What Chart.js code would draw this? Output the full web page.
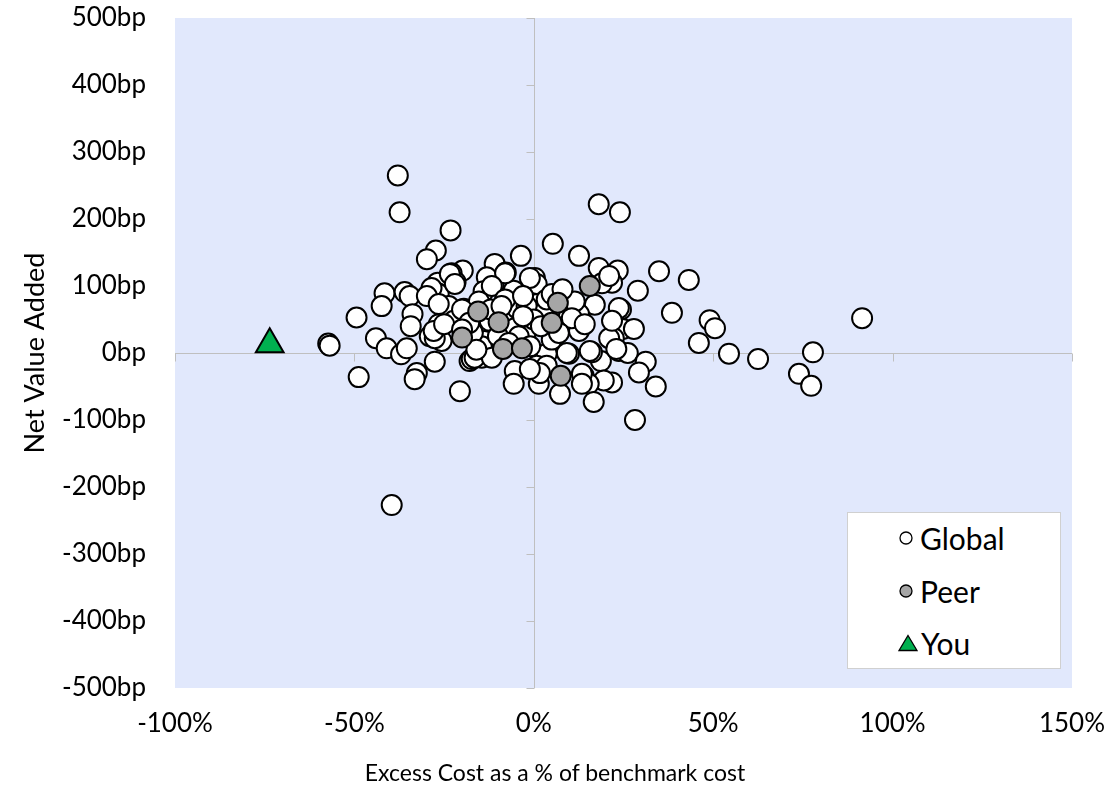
<!DOCTYPE html>
<html>
<head>
<meta charset="utf-8">
<script src="https://cdn.jsdelivr.net/npm/chart.js@4.4.1/dist/chart.umd.min.js"></script>
<style>
  html, body { margin: 0; padding: 0; background: #ffffff; }
  #wrap { position: relative; width: 1110px; height: 795px; }
  #legend {
    position: absolute; left: 847px; top: 512px; width: 214px; height: 157px;
    background: #ffffff; border: 1px solid #D0D0D0; box-sizing: border-box;
    font-family: Lato, "Open Sans", sans-serif; font-size: 30px; color: #000;
  }
  .item { position: absolute; left: 50px; height: 36px; display: flex; align-items: center; }
  .item span { margin-left: 6px; }
  #xtitle {
    position: absolute; left: 0; width: 1110px; top: 757px; height: 30px; line-height: 30px;
    text-align: center; font-family: Lato, "Open Sans", sans-serif; font-size: 23px; color: #000;
  }
</style>
</head>
<body>
<div id="wrap">
  <canvas id="c" width="1110" height="795"></canvas>
  <div id="xtitle">Excess Cost as a % of benchmark cost</div>
  <div id="legend">
    <div class="item" style="top:7px"><svg width="16" height="16"><circle cx="8" cy="8" r="6" fill="#ffffff" stroke="#000" stroke-width="1.3"/></svg><span>Global</span></div>
    <div class="item" style="top:60px"><svg width="16" height="16"><circle cx="8" cy="8" r="6" fill="#A6A6A6" stroke="#000" stroke-width="1.3"/></svg><span>Peer</span></div>
    <div class="item" style="top:112px"><svg width="20" height="18"><polygon points="10,1.5 19,16.5 1,16.5" fill="#00B050" stroke="#000" stroke-width="1.3"/></svg><span style="margin-left:3px">You</span></div>
  </div>
</div>
<script>
// ---- Data (x: excess cost %, y: net value added bp) ----
const globalX = [
  -37.9, -37.4, -23.2, -27.3, -29.8, -3.6, 5.3, -10.9, -7.8, -19.8,
  -22.9, -21.8, -11.2, 0.3, 0.8, -13.1, -5.6, -26.8, -26.8, -41.6,
  -36.0, -34.6, -14.0, 18.1, 24.0, 12.6, 18.1, 23.4, 34.9, 43.2,
  21.8, 29.0, 38.5, 49.0, 50.5, 46.0, 54.4, 24.3, 17.0, 10.6,
  12.6, 12.8, 24.8, 27.9, 22.3, 23.7, 26.2, 18.7, 16.2, 9.8,
  3.0, 31.2, 29.3, 34.0, 21.8, 19.5, 13.9, 15.3, 7.3, 16.7,
  28.2, 91.5, 62.5, 77.8, 73.9, 77.3, -57.3, -56.9, -49.4, -48.8,
  -44.0, -41.0, -37.0, -35.4, -42.4, -33.8, -34.3, -32.6, -33.2, -27.6,
  -27.6, -29.0, -26.5, -28.5, -29.8, -23.4, -20.6, -17.9, -19.5, -23.7,
  -22.3, -26.5, -25.7, -27.6, -8.0, -11.7, -1.1, -15.3, -13.7, -14.5,
  -17.3, -12.3, -5.3, -5.3, -2.0, 0.8, 2.8, 3.6, 9.8, 11.4,
  12.6, 19.0, 21.0, 23.7, 21.0, 23.0, 15.6, 9.2, 3.6, 0.8,
  -5.3, 1.4, -5.6, 13.4, 13.4, -16.5, -7.5, -4.7, -2.0, 10.6,
  14.2, 21.8, -27.9, -25.0, -26.5, -22.0, -20.0, -5.3, -4.2, -14.5,
  -11.7, 3.6, 1.7, -1.1, -39.6, -8.0, -3.0, 5.0, 8.0, -17.0,
  -10.0, -7.0, -1.0, 5.0, 7.0, -18.0, -12.0, -9.0, 0.0, 2.0,
  -3.0, -20.0, -16.0
];
const globalY = [
  265, 210, 183, 153, 140, 145, 163, 133, 120, 123,
  119, 106, 101, 112, 103, 113, 93, 105, 89, 89,
  91, 85, 92, 222, 210, 145, 127, 123, 122, 109,
  105, 93, 60, 49, 37, 15, -1, 65, 72, 73,
  58, 40, 36, 36, 22, 3, 0, -12, 1, -1,
  -4, -13, -29, -50, -44, -41, -34, -46, -61, -73,
  -100, 52, -9, 1, -31, -49, 14, 11, 53, -36,
  22, 7, -2, 7, 70, 58, 40, -30, -39, -13,
  31, 25, 88, 97, 85, 118, -57, -12, 66, 70,
  48, 43, 18, 22, 119, 100, 112, 77, 18, -7,
  -9, 48, 30, 48, 33, 73, 60, 80, 55, 77,
  33, 104, 115, 67, 22, 6, 3, 0, -1, -19,
  -27, -46, -46, -31, -46, -7, 52, 67, 70, 52,
  43, 48, 33, 43, 73, 103, 65, 37, 25, 10,
  -7, -19, -30, -24, -227, 80, 85, 88, 95, 30,
  25, 15, 10, 20, 30, 45, 65, 70, 50, 40,
  55, 35, 5
];
const peerX = [-15.5, -20.0, -9.8, -8.6, -3.3, 6.7, 5.0, 15.6, 7.5];
const peerY = [62, 23, 46, 6, 7, 75, 45, 100, -34];
const youX = [-73.6];
const youY = [13];

const xTicks = [-100, -50, 0, 50, 100, 150];
const yTicks = [-500, -400, -300, -200, -100, 0, 100, 200, 300, 400, 500];

const zip = (xs, ys) => xs.map((x, i) => ({ x: x, y: ys[i] }));

const FONT = 'Lato, "Open Sans", sans-serif';
const BG = '#E1E8FC';
const AXIS = '#BFBFBF';

const bgAxes = {
  id: 'bgAxes',
  beforeDatasetsDraw(chart) {
    const { ctx, chartArea: a, scales: { x, y } } = chart;
    ctx.save();
    ctx.fillStyle = BG;
    ctx.fillRect(a.left, a.top, a.right - a.left, a.bottom - a.top);
    const x0 = Math.round(x.getPixelForValue(0)) + 0.5;
    const y0 = Math.round(y.getPixelForValue(0)) + 0.5;
    ctx.strokeStyle = AXIS;
    ctx.lineWidth = 1;
    ctx.beginPath();
    ctx.moveTo(a.left, y0); ctx.lineTo(a.right, y0);
    ctx.moveTo(x0, a.top); ctx.lineTo(x0, a.bottom);
    xTicks.forEach(v => {
      const px = Math.round(x.getPixelForValue(v)) + 0.5;
      ctx.moveTo(px, y0); ctx.lineTo(px, y0 + 8);
    });
    yTicks.forEach(v => {
      const py = Math.round(y.getPixelForValue(v)) + 0.5;
      ctx.moveTo(x0 - 8, py); ctx.lineTo(x0, py);
    });
    ctx.stroke();
    ctx.restore();
  }
};

new Chart(document.getElementById('c'), {
  type: 'scatter',
  data: {
    datasets: [
      { label: 'You', data: zip(youX, youY), order: 0, pointStyle: 'triangle',
        pointRadius: 16, pointHoverRadius: 16, backgroundColor: '#00B050', borderColor: '#000', borderWidth: 2 },
      { label: 'Peer', data: zip(peerX, peerY), order: 1, pointStyle: 'circle',
        pointRadius: 10, pointHoverRadius: 10, backgroundColor: '#A6A6A6', borderColor: '#000', borderWidth: 2 },
      { label: 'Global', data: zip(globalX, globalY), order: 2, pointStyle: 'circle',
        pointRadius: 10, pointHoverRadius: 10, backgroundColor: '#FFFFFF', borderColor: '#000', borderWidth: 2 }
    ]
  },
  options: {
    responsive: false,
    animation: false,
    layout: { padding: { left: 0, right: 38, top: 17, bottom: 0 } },
    plugins: { legend: { display: false }, tooltip: { enabled: false } },
    scales: {
      x: {
        type: 'linear', min: -100, max: 150,
        afterBuildTicks: s => { s.ticks = xTicks.map(v => ({ value: v })); },
        afterFit: s => { s.height = 107; s.paddingLeft = 0; s.paddingRight = 0; },
        grid: { display: false, drawTicks: false },
        border: { display: false },
        ticks: { padding: 20, color: '#000', font: { family: FONT, size: 26 }, callback: v => v + '%' },
        title: { display: false }
      },
      y: {
        type: 'linear', min: -500, max: 500,
        afterBuildTicks: s => { s.ticks = yTicks.map(v => ({ value: v })); },
        afterFit: s => { s.width = 175; s.paddingTop = 0; s.paddingBottom = 0; },
        grid: { display: false, drawTicks: false },
        border: { display: false },
        ticks: { padding: 29, color: '#000', font: { family: FONT, size: 26 }, callback: v => v + 'bp' },
        title: { display: true, text: 'Net Value Added', color: '#000',
                 font: { family: FONT, size: 27 }, padding: { top: 19, bottom: 0 } }
      }
    }
  },
  plugins: [bgAxes]
});
</script>
</body>
</html>
